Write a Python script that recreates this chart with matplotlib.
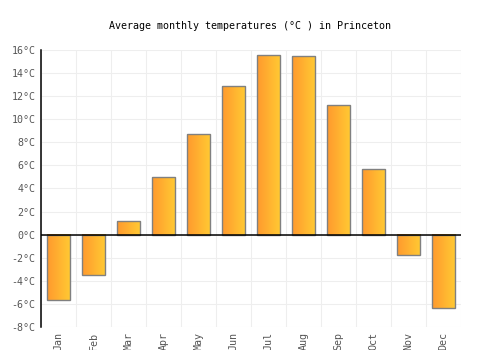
import numpy as np
import matplotlib
matplotlib.use("Agg")
import matplotlib.pyplot as plt
from matplotlib.colors import LinearSegmentedColormap

# monthly averages in Princeton
months = ["Jan", "Feb", "Mar", "Apr", "May", "Jun", "Jul", "Aug", "Sep", "Oct", "Nov", "Dec"]
temps = [-5.7, -3.5, 1.2, 5.0, 8.7, 12.9, 15.6, 15.5, 11.2, 5.7, -1.8, -6.4]
yticks = list(range(-8, 17, 2))

plt.rcParams['font.family'] = ['DejaVu Sans Mono']

fig = plt.figure(figsize=(5, 3.5), dpi=100)
ax = fig.add_axes([0.082, 0.066, 0.84, 0.791])

x = np.arange(len(months))
bars = ax.bar(x, temps, width=0.66, facecolor='none', edgecolor='#808080', linewidth=1.0, zorder=3)

# left-to-right orange -> yellow gradient inside each bar
cmap = LinearSegmentedColormap.from_list("warm", ["#ff9a2e", "#ffca33"])
grad = np.linspace(0, 1, 64).reshape(1, -1)
for b in bars:
    x0, y0 = b.get_x(), b.get_y()
    w, h = b.get_width(), b.get_height()
    ax.imshow(grad, cmap=cmap, aspect='auto', extent=[x0, x0 + w, y0, y0 + h], zorder=2, interpolation='bilinear')

ax.set_xlim(-0.5, len(months) - 0.5)
ax.set_ylim(-8, 16)
ax.set_yticks(yticks)
ax.set_yticklabels([f"{t}°C" for t in yticks])
ax.set_xticks(x)
ax.set_xticklabels(months, rotation=90)

# grid: horizontal at every tick, vertical between months
for t in yticks:
    ax.axhline(t, color='#eeeeee', linewidth=0.8, zorder=0)
for b in np.arange(-0.5, len(months), 1.0):
    ax.axvline(b, color='#eeeeee', linewidth=0.8, zorder=0)
ax.axhline(0, color='black', linewidth=1.1, zorder=4)

for s in ['top', 'right', 'bottom']:
    ax.spines[s].set_visible(False)
ax.spines['left'].set_color('black')
ax.spines['left'].set_linewidth(1.1)
ax.spines['left'].set_zorder(5)
ax.tick_params(axis='both', length=0, labelsize=7.2, colors='#555555')
ax.tick_params(axis='y', pad=4)
ax.tick_params(axis='x', pad=4)

fig.suptitle("Average monthly temperatures (°C ) in Princeton", y=0.94, fontsize=7.2)

fig.savefig("out.png", dpi=100)
